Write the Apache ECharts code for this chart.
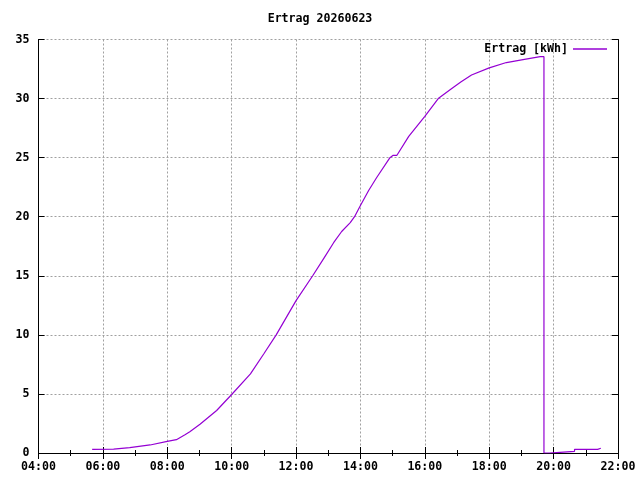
<!DOCTYPE html>
<html>
<head>
<meta charset="utf-8">
<script src="https://cdn.jsdelivr.net/npm/echarts@6/dist/echarts.min.js"></script>
<style>
html,body{margin:0;padding:0;background:#fff;}
#c{width:640px;height:480px;}
</style>
</head>
<body>
<div id="c"></div>
<script>
const titleText = "Ertrag 20260623";
const seriesName = "Ertrag [kWh]";
const times = ["05:40","06:20","06:50","07:28","08:00","08:17","08:33","08:42","09:01","09:32","10:00","10:35","11:00","11:23","12:00","12:31","12:52","13:10","13:25","13:41","13:49","14:00","14:15","14:30","14:55","15:01","15:08","15:30","16:00","16:25","16:47","17:07","17:27","18:00","18:32","19:03","19:35","19:42","19:42","19:52","19:52","20:12","20:12","20:39","20:39","21:22","21:22","21:28"];
const values = [0.31,0.33,0.45,0.68,0.99,1.13,1.55,1.80,2.43,3.6,4.95,6.7,8.4,10.0,12.9,15.0,16.5,17.8,18.75,19.5,20.0,20.95,22.2,23.3,25.0,25.2,25.2,26.8,28.5,30.0,30.75,31.4,32.0,32.6,33.05,33.3,33.55,33.55,0,0,0.06,0.06,0.14,0.14,0.31,0.31,0.40,0.40];
const xTicks = ["04:00","06:00","08:00","10:00","12:00","14:00","16:00","18:00","20:00","22:00"];
const yTicks = [0,5,10,15,20,25,30,35];

function toHours(s){const p=s.split(":");return +p[0]+(+p[1])/60;}
function fmtHour(v){const h=Math.round(v);return (h<10?"0":"")+h+":00";}

const FONT = "'DejaVu Sans Mono', 'Liberation Mono', monospace";
const lblStyle = {fontFamily: FONT, fontWeight: 'bold', fontSize: 11.6, color: '#000'};
const xMin = toHours(xTicks[0]), xMax = toHours(xTicks[xTicks.length-1]);
const yMin = yTicks[0], yMax = yTicks[yTicks.length-1];

const split = {show:true, lineStyle:{color:'#a0a0a0', width:1, type:[2,2]}};
const axLine = {show:true, lineStyle:{color:'#000', width:1}};

const chart = echarts.init(document.getElementById('c'), null, {renderer:'canvas'});
chart.setOption({
  animation:false,
  backgroundColor:'#fff',
  title:{text:titleText, left:'center', top:13, textStyle:Object.assign({}, lblStyle), padding:0},
  legend:{
    data:[{name:seriesName, icon:'rect'}],
    right:33, top:43, align:'right', itemWidth:34, itemHeight:1.5,
    textStyle:Object.assign({}, lblStyle), padding:0
  },
  grid:{left:38.5, right:22, top:39.5, bottom:27, containLabel:false},
  xAxis:[
    {type:'value', min:xMin, max:xMax, interval:2, position:'bottom',
     axisLine:axLine, axisTick:{show:true, inside:true, length:6, lineStyle:{color:'#000'}},
     minorTick:{show:true, splitNumber:2, length:3, lineStyle:{color:'#000'}},
     axisLabel:Object.assign({margin:8, formatter:fmtHour}, lblStyle),
     splitLine:split},
    {type:'value', min:xMin, max:xMax, interval:2, position:'top',
     axisLine:axLine, axisTick:{show:true, inside:true, length:6, lineStyle:{color:'#000'}},
     minorTick:{show:true, splitNumber:2, length:3, lineStyle:{color:'#000'}},
     axisLabel:{show:false}, splitLine:{show:false}}
  ],
  yAxis:[
    {type:'value', min:yMin, max:yMax, interval:5, position:'left',
     axisLine:axLine, axisTick:{show:true, inside:true, length:6, lineStyle:{color:'#000'}},
     axisLabel:Object.assign({margin:9}, lblStyle),
     splitLine:split},
    {type:'value', min:yMin, max:yMax, interval:5, position:'right',
     axisLine:axLine, axisTick:{show:true, inside:true, length:6, lineStyle:{color:'#000'}},
     axisLabel:{show:false}, splitLine:{show:false}}
  ],
  series:[{
    name:seriesName, type:'line', xAxisIndex:0, yAxisIndex:0,
    showSymbol:false, symbol:'none',
    color:'#9400d3',
    lineStyle:{color:'#9400d3', width:1.2},
    data: times.map((t,i)=>[toHours(t), values[i]])
  }]
});
</script>
</body>
</html>
